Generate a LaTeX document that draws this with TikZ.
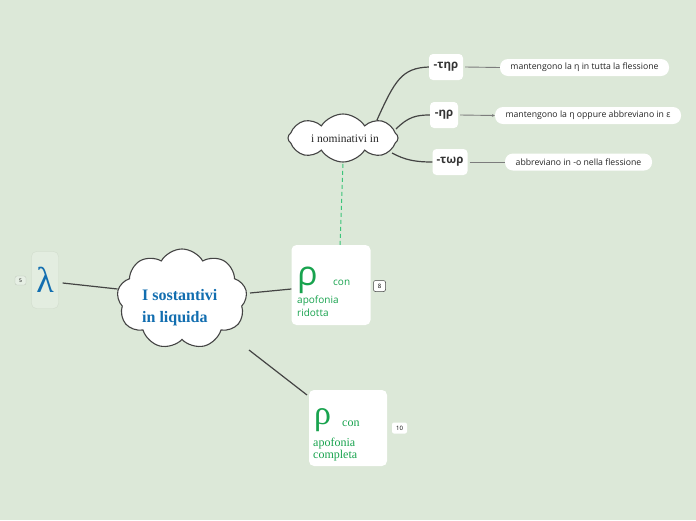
\documentclass[tikz,border=0pt]{standalone}
\usepackage{fontspec}
\setmainfont{Liberation Serif}
\setsansfont{Open Sans}
\usetikzlibrary{shapes.symbols,arrows.meta}
\definecolor{bg}{RGB}{220,232,216}
\definecolor{grn}{RGB}{24,163,78}
\definecolor{dgrn}{RGB}{60,196,122}
\definecolor{blu}{RGB}{18,110,176}
\definecolor{conn}{RGB}{68,68,68}
\tikzset{
  conn/.style={draw=conn,line width=1.2pt},
  thin conn/.style={draw=conn!70,line width=0.9pt},
  rbox/.style={fill=white,rounded corners=5pt,draw=none,inner sep=0pt},
  pill/.style={fill=white,rounded corners=8pt,draw=none,inner sep=0pt,minimum height=17pt,font=\sffamily\fontsize{8.7}{9}\selectfont,text=black!85},
  suff/.style={fill=white,rounded corners=4pt,draw=none,inner sep=0pt,minimum height=26pt,font=\sffamily\bfseries\fontsize{11.5}{12}\selectfont,text=black!80},
  badge/.style={fill=white,rounded corners=2pt,inner sep=0pt,minimum width=12pt,minimum height=11pt,font=\sffamily\fontsize{6}{6}\selectfont},
  cloudnode/.style={cloud,draw=conn,line width=1.1pt,fill=white,inner sep=0pt},
  gtxt/.style={text=grn,inner sep=0pt,anchor=base west},
  ttl/.style={text=blu,font=\bfseries\fontsize{16}{20}\selectfont,inner sep=0pt,anchor=base west},
}
\begin{document}
\begin{tikzpicture}[x=1pt,y=-1pt]
\useasboundingbox[fill=bg] (0,0) rectangle (696,520);
% main cloud
\node[cloudnode,cloud puffs=9,cloud puff arc=120,minimum width=130pt,minimum height=100pt,aspect=1.3] (main) at (182,299) {};
\node[ttl] (title1) at (142,300) {I sostantivi};
\node[ttl] (title2) at (142,322) {in liquida};
% lambda
\node[fill=bg!80!white,draw=bg!94!black,line width=0.3pt,rounded corners=5pt,minimum width=27pt,minimum height=57pt,inner sep=0pt] (lam) at (45,280) {};
\node[text=blu,font=\fontsize{36}{36}\selectfont,inner sep=0pt] (lamt) at (45,280) {λ};
\node[badge,fill=bg!70!white,draw=bg!85!black,line width=0.3pt,minimum width=11pt,minimum height=9pt,font=\sffamily\fontsize{5}{5}\selectfont] (b5) at (20.5,280.5) {5};
% rho 1
\node[rbox,minimum width=79pt,minimum height=80pt] (r1) at (331,285) {};
\node[gtxt,font=\sffamily\fontsize{34}{34}\selectfont] (r1a) at (297,285) {ρ};
\node[gtxt,font=\sffamily\fontsize{10}{13}\selectfont] (r1b) at (333,285) {con};
\node[gtxt,font=\sffamily\fontsize{10}{13}\selectfont] (r1c) at (297,303) {apofonia};
\node[gtxt,font=\sffamily\fontsize{10}{13}\selectfont] (r1d) at (297,316) {ridotta};
\node[badge,draw=conn,line width=0.5pt] (b8) at (379.5,286) {8};
% rho 2
\node[rbox,minimum width=78pt,minimum height=76pt] (r2) at (348,428) {};
\node[gtxt,font=\fontsize{34}{34}\selectfont] (r2a) at (314,424) {ρ};
\node[gtxt,font=\fontsize{12}{13}\selectfont] (r2b) at (342,426) {con};
\node[gtxt,font=\fontsize{12}{13}\selectfont] (r2c) at (313,446) {apofonia};
\node[gtxt,font=\fontsize{12}{13}\selectfont] (r2d) at (313,458) {completa};
\node[badge,minimum width=15pt] (b10) at (399.5,428) {10};
% nominativi cloud
\node[cloudnode,cloud puffs=8,cloud puff arc=115,minimum width=110pt,minimum height=48pt,aspect=2.4] (nom) at (343,138) {};
\node[font=\fontsize{11.5}{12}\selectfont,text=black!85,inner sep=0pt] (nomt) at (345,139) {i nominativi in};
% suffixes
\node[suff,minimum width=34pt] (s1) at (446,67) {-τηρ};
\node[suff,minimum width=28pt] (s2) at (444,115) {-ηρ};
\node[suff,minimum width=35pt] (s3) at (450,162) {-τωρ};
\node[pill,minimum width=169pt] (p1) at (584.5,67.5) {mantengono la η in tutta la flessione};
\node[pill,minimum width=186pt] (p2) at (588,115.5) {mantengono la η oppure abbreviano in ε};
\node[pill,minimum width=147pt] (p3) at (578.5,162) {abbreviano in -o nella flessione};
% connectors
\draw[conn] (lam.east |- 0,283) ++(4,0) coordinate (lq) -- (main.west |- 0,289);
\draw[conn] (250,293) -- (r1.west |- 0,289);
\draw[conn] (249,350) -- (307,395);
\draw[dgrn,line width=1pt,dash pattern=on 4pt off 3pt] (r1.north -| 340,0) -- (nom.south -| 343,0);
\draw[conn] (377,120) .. controls (395,80) and (402,68) .. (s1.west);
\draw[conn] (396,129) .. controls (408,117) and (416,115) .. (s2.west);
\draw[conn] (392,153) .. controls (405,160) and (415,162) .. (s3.west);
\draw[thin conn] (s1.east) ++(2,0) -- (p1.west);
\draw[thin conn,-{Stealth[length=3pt,width=3pt]}] (s2.east) ++(2,0) -- (p2.west);
\draw[thin conn] (s3.east) ++(2,0) -- (p3.west);
\end{tikzpicture}
\end{document}
